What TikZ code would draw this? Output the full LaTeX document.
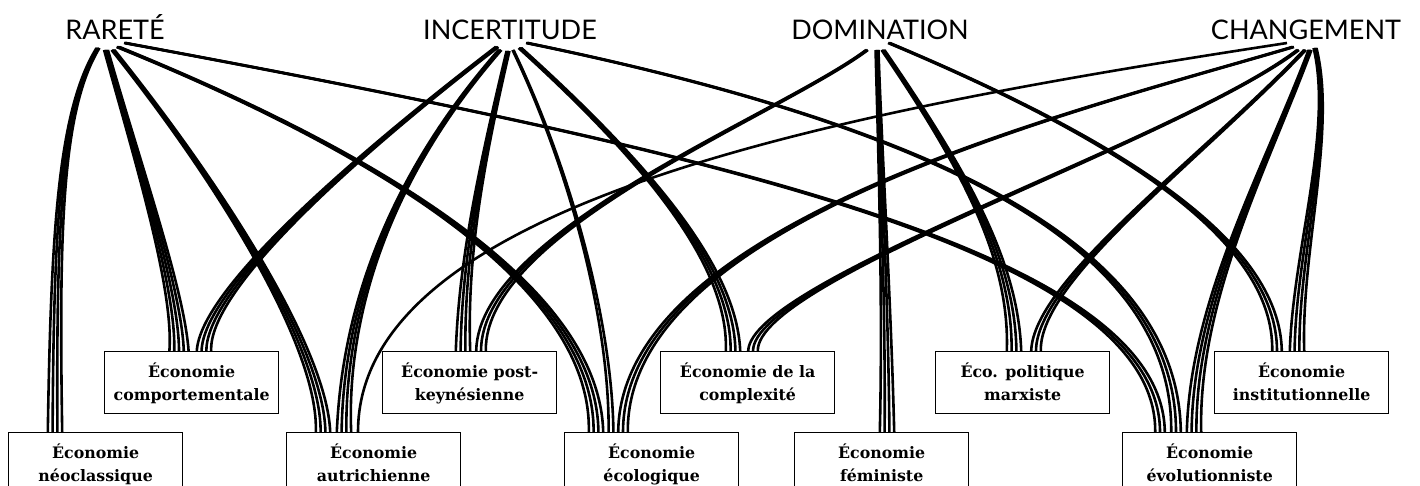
\documentclass[tikz,border=0pt]{standalone}
\usepackage{fontspec}
\setmainfont{DejaVu Serif}
\newfontfamily\titlefont{Lato}
\usetikzlibrary{calc,backgrounds}
\def\bpitch{4.8}
% #1 hub, #2 start offset, #3 first control (absolute), #4 box, #5 x from box west, #6 second-control height, #7 number of strands
\newcommand\bund[7]{%
  \path ($(#1)+(#2)$) coordinate (bS) ($(#4.north west)+(#5,0)$) coordinate (bE);
  \foreach \k in {1,...,#7}{%
    \pgfmathsetmacro\off{(\k-(#7+1)/2)*\bpitch}%
    \draw[link] ($(bS)+(0.2*\off,0)$) .. controls ($(#3)+(0.25*\off,0)$) and ($(bE)+(0.55*\off,-#6)$) .. ($(bE)+(\off,0)$);
  }}
\newcommand\ebx[5]{%
  \node[ebox] (#1) at (#2,#3) {};
  \node[etext] (#1a) at ($(#1.north)+(0,26)$) {#4};
  \node[etext] (#1b) at ($(#1.north)+(0,49)$) {#5};}
\begin{document}
\begin{tikzpicture}[x=1pt,y=-1pt,
  link/.style={line width=2.6pt, black},
  ebox/.style={draw=black, line width=1.3pt, fill=white, minimum width=174pt, minimum height=62pt, inner sep=0pt, anchor=north west},
  etext/.style={font=\bfseries\fontsize{15.8}{18}\selectfont, anchor=base, inner sep=0pt},
  theme/.style={font=\titlefont\fontsize{27}{30}\selectfont, anchor=base, inner sep=0pt}]
\useasboundingbox (0,0) rectangle (1420,486);
\clip (0,0) rectangle (1420,486);
% themes
\node[theme] (R) at (115,40) {RARETÉ};
\node[theme] (I) at (510,40) {INCERTITUDE};
\node[theme] (D) at (880,40) {DOMINATION};
\node[theme] (C) at (1306,40) {CHANGEMENT};
\coordinate (Rh) at ($(R.base)+(-3,8)$);
\coordinate (Ih) at ($(I.base)+(2,8)$);
\coordinate (Dh) at ($(D.base)+(-2,8)$);
\coordinate (Ch) at ($(C.base)+(-5,8)$);
% schools
\ebx{neo}{8}{432}{Économie}{néoclassique}
\ebx{comp}{104}{351}{Économie}{comportementale}
\ebx{aut}{286}{432}{Économie}{autrichienne}
\ebx{pk}{382}{351}{Économie post-}{keynésienne}
\ebx{eco}{564}{432}{Économie}{écologique}
\ebx{cplx}{660}{351}{Économie de la}{complexité}
\ebx{fem}{794}{432}{Économie}{féministe}
\ebx{marx}{935}{351}{Éco. politique}{marxiste}
\ebx{evo}{1122}{432}{Économie}{évolutionniste}
\ebx{inst}{1214}{351}{Économie}{institutionnelle}
\begin{pgfonlayer}{background}
\fill[white] (0,0) rectangle (1420,486);
% RARETÉ
\bund{Rh}{-14,0}{60,110}{neo}{47}{202}{4}
\bund{Rh}{-6,2}{140,170}{comp}{75}{61}{5}
\bund{Rh}{1,2}{225,190}{aut}{37}{82}{4}
\bund{Rh}{6,-1}{420,170}{eco}{32}{132}{4}
\bund{Rh}{13,-5}{700,150}{evo}{38}{182}{3}
% INCERTITUDE
\bund{Ih}{-15,-1}{350,160}{comp}{100}{61}{4}
\bund{Ih}{-12,2}{360,210}{aut}{58}{72}{4}
\bund{Ih}{-4,3}{480,170}{pk}{81}{91}{4}
\bund{Ih}{1,2}{575,180}{eco}{47}{102}{2}
\bund{Ih}{8,0}{655,170}{cplx}{73}{81}{4}
\bund{Ih}{15,-5}{950,130}{evo}{54}{182}{3}
% DOMINATION
\bund{Dh}{-11,2}{780,115}{pk}{99}{121}{3}
\bund{Dh}{-1,2}{880,150}{fem}{93}{132}{4}
\bund{Dh}{5,2}{965,170}{marx}{79}{91}{4}
\bund{Dh}{11,-5}{1120,140}{inst}{63}{111}{3}
% CHANGEMENT
\bund{Ch}{-14,-5}{850,110}{aut}{72}{232}{1}
\bund{Ch}{-8,-1}{1080,110}{eco}{59}{212}{3}
\bund{Ch}{-3,2}{1180,140}{cplx}{93}{71}{3}
\bund{Ch}{4,2}{1200,160}{marx}{101}{71}{3}
\bund{Ch}{9,2}{1265,170}{evo}{72}{132}{4}
\bund{Ch}{14,0}{1335,130}{inst}{83}{101}{4}
\end{pgfonlayer}
\end{tikzpicture}
\end{document}
